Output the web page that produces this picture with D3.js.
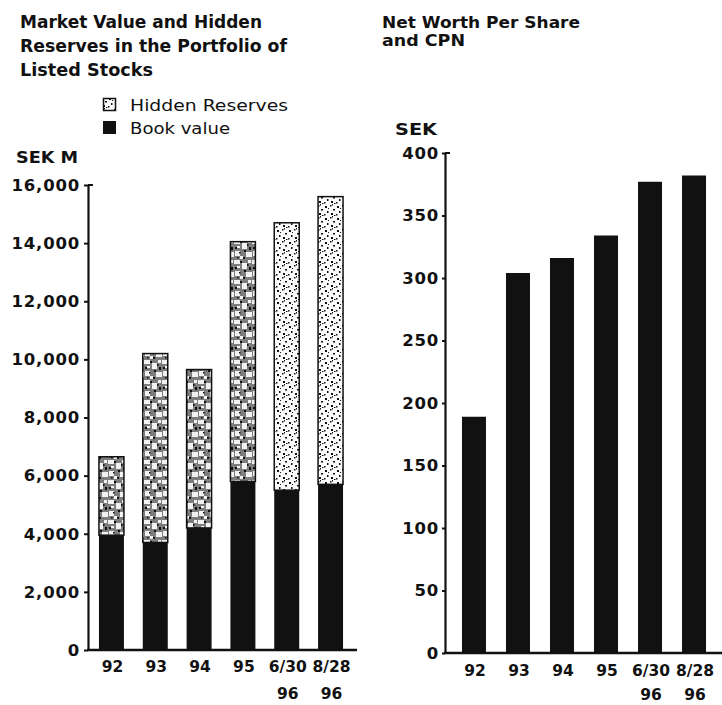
<!DOCTYPE html>
<html>
<head>
<meta charset="utf-8">
<script src="https://cdn.jsdelivr.net/npm/d3@7"></script>
<style>
  html, body { margin: 0; padding: 0; background: #ffffff; }
  svg { display: block; }
  text { fill: #111; }
</style>
</head>
<body>
<svg id="chart" width="722" height="705"></svg>
<script>
// ---------------- data ----------------
const categories = ["92", "93", "94", "95", "6/30 96", "8/28 96"];
const categoryLines = [["92"], ["93"], ["94"], ["95"], ["6/30", "96"], ["8/28", "96"]];
const bookValue = [3950, 3700, 4200, 5800, 5500, 5700];          // SEK M
const hiddenReserves = [2700, 6500, 5450, 8250, 9200, 9900];      // SEK M
const netWorthPerShare = [189, 304, 316, 334, 377, 382];          // SEK
const leftTicks = [0, 2000, 4000, 6000, 8000, 10000, 12000, 14000, 16000];
const rightTicks = [0, 50, 100, 150, 200, 250, 300, 350, 400];
const leftTitle = ["Market Value and Hidden", "Reserves in the Portfolio of", "Listed Stocks"];
const rightTitle = ["Net Worth Per Share", "and CPN"];
const legendLabels = ["Hidden Reserves", "Book value"];

// ---------------- setup ----------------
const svg = d3.select("#chart");
const FONT = "'DejaVu Sans', 'Liberation Sans', sans-serif";
const INK = "#111";

// textures for hidden reserves
const defs = svg.append("defs");
const pw = defs.append("pattern").attr("id", "speckWhite")
  .attr("patternUnits", "userSpaceOnUse").attr("width", 12).attr("height", 12);
pw.append("rect").attr("width", 12).attr("height", 12).attr("fill", "#fbfbfb");
[[1,2,2,2],[6,1,1.5,1.5],[9,5,2,1.5],[3,7,1.5,2],[7,9,2,2],[0,10,1.5,1.5],[10,11,1.5,1],[4,4,1,1],[8,0,1,1.5]]
  .forEach(d => pw.append("rect").attr("x", d[0]).attr("y", d[1]).attr("width", d[2]).attr("height", d[3]).attr("fill", INK));

const pg = defs.append("pattern").attr("id", "speckGray")
  .attr("patternUnits", "userSpaceOnUse").attr("width", 18).attr("height", 20);
pg.append("rect").attr("width", 18).attr("height", 20).attr("fill", "#7d7d7d");
[[0,0,6,4],[8,3,5,6],[12,12,6,5],[1,11,5,5],[14,0,3,3],[6,16,3,3],[3,6,3,2]]
  .forEach(d => pg.append("rect").attr("x", d[0]).attr("y", d[1]).attr("width", d[2]).attr("height", d[3]).attr("fill", "#f2f2f2"));
[[6,1,2,2],[15,7,2,3],[1,7,2,2],[10,10,2,2],[9,17,2,2],[3,17,1.5,1.5],[13,4,1.5,2],[5,12,1.5,1.5]]
  .forEach(d => pg.append("rect").attr("x", d[0]).attr("y", d[1]).attr("width", d[2]).attr("height", d[3]).attr("fill", INK));

function addText(x, y, str, opts) {
  const t = svg.append("text").attr("x", x).attr("y", y).text(str)
    .style("font-family", FONT)
    .style("font-size", (opts.size || 16) + "px")
    .style("font-weight", opts.weight || "bold")
    .attr("fill", INK);
  if (opts.len) t.attr("textLength", opts.len).attr("lengthAdjust", "spacingAndGlyphs");
  if (opts.anchor) t.attr("text-anchor", opts.anchor);
  return t;
}

// ---------------- titles ----------------
const leftTitleY = [28, 52, 75.5], leftTitleLen = [242, 267, 133];
leftTitle.forEach((s, i) => addText(20, leftTitleY[i], s, { size: 17, len: leftTitleLen[i] }));
const rightTitleY = [27.5, 46], rightTitleLen = [198, 83];
rightTitle.forEach((s, i) => addText(382, rightTitleY[i], s, { size: 15.5, len: rightTitleLen[i] }));

// ---------------- legend ----------------
svg.append("rect").attr("x", 103.5).attr("y", 98.5).attr("width", 12).attr("height", 12)
  .attr("fill", "url(#speckWhite)").attr("stroke", INK).attr("stroke-width", 1.5);
svg.append("rect").attr("x", 103).attr("y", 121).attr("width", 13).attr("height", 13).attr("fill", INK);
addText(130, 111, legendLabels[0], { size: 16, weight: "normal", len: 158 });
addText(130, 134, legendLabels[1], { size: 16, weight: "normal", len: 100 });

// unit labels
addText(16, 163, "SEK M", { size: 16, len: 62 });
addText(395, 135, "SEK", { size: 16, len: 42 });

// ---------------- left chart ----------------
const xL = d3.scaleBand().domain(categories).range([88, 354]).paddingInner(0.43).paddingOuter(0.25);
const yL = d3.scaleLinear().domain([0, 16000]).range([650, 185]);

const stackData = categories.map((c, i) => ({ cat: c, book: bookValue[i], hidden: hiddenReserves[i] }));
const series = d3.stack().keys(["book", "hidden"])(stackData);

const gL = svg.append("g");
series.forEach(s => {
  gL.selectAll(null).data(s).join("rect")
    .attr("x", d => xL(d.data.cat))
    .attr("width", xL.bandwidth())
    .attr("y", d => yL(d[1]))
    .attr("height", d => yL(d[0]) - yL(d[1]))
    .attr("fill", (d, i) => s.key === "book" ? INK : (i < 4 ? "url(#speckGray)" : "url(#speckWhite)"))
    .attr("stroke", s.key === "book" ? "none" : INK)
    .attr("stroke-width", s.key === "book" ? 0 : 1.5);
});

const tickStyle = sel => sel.style("font-family", FONT).style("font-size", "16.5px")
  .style("font-weight", "bold").style("letter-spacing", "0.8px").attr("fill", INK);

const axL = svg.append("g").attr("transform", "translate(88,0)")
  .call(d3.axisLeft(yL).tickValues(leftTicks).tickFormat(d3.format(",")).tickSize(4).tickPadding(4).tickSizeOuter(0));
axL.select(".domain").attr("stroke", INK).attr("stroke-width", 2.2);
axL.selectAll(".tick line").attr("stroke", INK).attr("stroke-width", 2);
tickStyle(axL.selectAll(".tick text"));
axL.append("line").attr("x1", 0).attr("x2", 5).attr("y1", yL(16000)).attr("y2", yL(16000)).attr("stroke", INK).attr("stroke-width", 2);

// x baseline
svg.append("line").attr("x1", 87).attr("x2", 357).attr("y1", yL(0)).attr("y2", yL(0)).attr("stroke", INK).attr("stroke-width", 2.5);
categories.forEach((c, i) => {
  categoryLines[i].forEach((ln, j) => {
    addText(xL(c) + xL.bandwidth() / 2 + 1, j === 0 ? 672 : 699, ln, { size: 15.5, anchor: "middle" });
  });
});

// ---------------- right chart ----------------
const xR = d3.scaleBand().domain(categories).range([445, 723]).paddingInner(0.455).paddingOuter(0.386);
const yR = d3.scaleLinear().domain([0, 400]).range([653, 153]);

svg.append("g").selectAll("rect").data(netWorthPerShare).join("rect")
  .attr("x", (d, i) => xR(categories[i]))
  .attr("width", xR.bandwidth())
  .attr("y", d => yR(d))
  .attr("height", d => yR(0) - yR(d))
  .attr("fill", INK);

const axR = svg.append("g").attr("transform", "translate(445,0)")
  .call(d3.axisLeft(yR).tickValues(rightTicks).tickSize(3).tickPadding(3).tickSizeOuter(0));
axR.select(".domain").attr("stroke", INK).attr("stroke-width", 2.2);
axR.selectAll(".tick line").attr("stroke", INK).attr("stroke-width", 2);
tickStyle(axR.selectAll(".tick text"));
axR.append("line").attr("x1", 0).attr("x2", 5).attr("y1", yR(400)).attr("y2", yR(400)).attr("stroke", INK).attr("stroke-width", 2);

svg.append("line").attr("x1", 444).attr("x2", 722).attr("y1", yR(0)).attr("y2", yR(0)).attr("stroke", INK).attr("stroke-width", 2.5);
categories.forEach((c, i) => {
  categoryLines[i].forEach((ln, j) => {
    addText(xR(c) + xR.bandwidth() / 2 + 1, j === 0 ? 676 : 700, ln, { size: 15.5, anchor: "middle" });
  });
});
</script>
</body>
</html>
